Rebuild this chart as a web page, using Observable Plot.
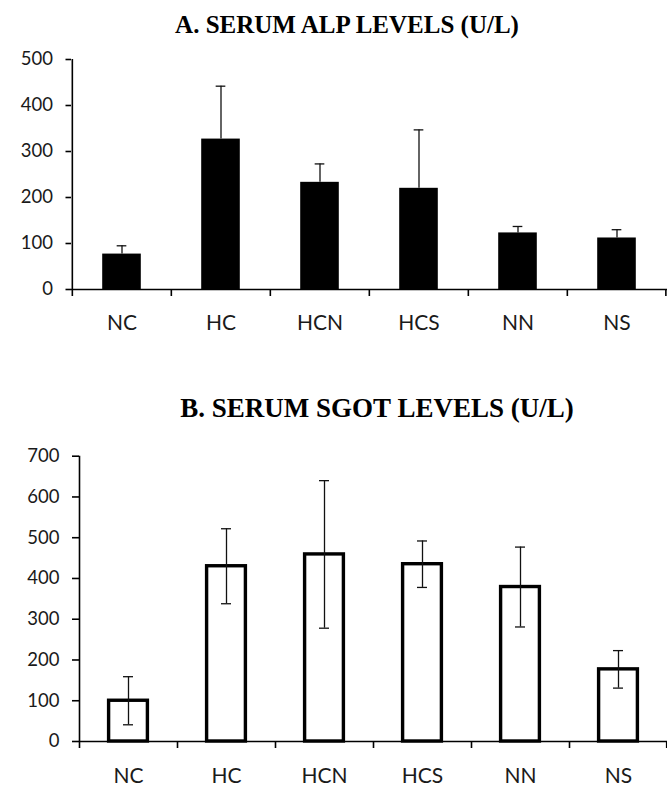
<!DOCTYPE html>
<html>
<head>
<meta charset="utf-8">
<script src="https://cdn.jsdelivr.net/npm/d3@7"></script>
<script src="https://cdn.jsdelivr.net/npm/@observablehq/plot@0.6"></script>
<style>
  html, body { margin: 0; padding: 0; background: #fff; }
  body { width: 667px; height: 786px; position: relative; overflow: hidden; }
  .title {
    position: absolute;
    font-family: "Liberation Serif", "Times New Roman", serif;
    font-weight: bold;
    line-height: 1;
    white-space: nowrap;
    color: #000;
    transform: translateX(-50%);
  }
  .chart { position: absolute; left: 0; }
</style>
</head>
<body>
<div class="title" id="titleA" style="left:347px; top:11.5px; font-size:25px;">A. SERUM ALP LEVELS (U/L)</div>
<div class="chart" id="chartA" style="top:45px;"></div>
<div class="title" id="titleB" style="left:377px; top:395px; font-size:27px;">B. SERUM SGOT LEVELS (U/L)</div>
<div class="chart" id="chartB" style="top:440px;"></div>
<script>
// ---- data ----
const categories = ["NC", "HC", "HCN", "HCS", "NN", "NS"];
const alpMean = [77, 327, 233, 220, 123, 112];
const alpSD   = [18, 115, 40, 127, 14, 18];
const sgotMean = [100, 430, 459, 435, 379, 177];
const sgotSD   = [59, 92, 181, 57, 98, 46];
const alpTicks  = [0, 100, 200, 300, 400, 500];
const sgotTicks = [0, 100, 200, 300, 400, 500, 600, 700];

function makeChart(opts) {
  const {means, sds, ticks, width, height, marginLeft, marginTop, marginBottom,
         fill, barStroke, barStrokeWidth, barInset, twoSided, yTickSize, xTickPadding} = opts;
  const yMax = ticks[ticks.length - 1];
  const data = categories.map((c, i) => ({
    cat: c,
    mean: means[i],
    lo: twoSided ? means[i] - sds[i] : means[i],
    hi: means[i] + sds[i]
  }));
  const step = (width - marginLeft) / categories.length;
  const capInset = (step - 10) / 2;
  const ink = "#111";
  return Plot.plot({
    width, height, marginLeft, marginRight: 0, marginTop, marginBottom,
    style: {fontFamily: "Lato, 'Open Sans', sans-serif", color: "#1a1a1a", background: "white", overflow: "visible"},
    x: {domain: categories, padding: 0, label: null},
    y: {domain: [0, yMax], label: null},
    marks: [
      Plot.barY(data, {x: "cat", y: "mean", fill, stroke: barStroke, strokeWidth: barStrokeWidth,
                       insetLeft: barInset, insetRight: barInset}),
      Plot.ruleX(data, {x: "cat", y1: "hi", y2: "lo", stroke: ink, strokeWidth: 1.3}),
      Plot.tickY(data, {x: "cat", y: "hi", insetLeft: capInset, insetRight: capInset, stroke: ink, strokeWidth: 1.3}),
      twoSided ? Plot.tickY(data, {x: "cat", y: "lo", insetLeft: capInset, insetRight: capInset, stroke: ink, strokeWidth: 1.3}) : null,
      Plot.ruleY([0], {stroke: "#000", strokeWidth: 1.6}),
      // y-axis line, extending below zero like the first category tick
      Plot.ruleX([categories[0]], {x: d => d, dx: -step / 2, y1: () => yMax, y2: () => 0, insetBottom: -7, stroke: "#000", strokeWidth: 1.6}),
      // category boundary ticks
      Plot.ruleX(categories.slice(1), {x: d => d, dx: -step / 2, y1: () => 0, y2: () => 0, insetBottom: -7, stroke: "#000", strokeWidth: 1.6}),
      Plot.ruleX([categories[categories.length - 1]], {x: d => d, dx: step / 2 - 0.8, y1: () => 0, y2: () => 0, insetBottom: -7, stroke: "#000", strokeWidth: 1.6}),
      Plot.axisY({ticks, tickSize: yTickSize, tickPadding: 13, fontSize: 18.5, tickFormat: d => String(d), stroke: "#000", strokeWidth: 1.6}),
      Plot.axisX({tickSize: 0, tickPadding: xTickPadding, fontSize: 21})
    ]
  });
}

document.getElementById("chartA").append(makeChart({
  means: alpMean, sds: alpSD, ticks: alpTicks,
  width: 667, height: 294, marginLeft: 71, marginTop: 14, marginBottom: 50,
  fill: "#000", barStroke: "#000", barStrokeWidth: 0, barInset: 30.2,
  twoSided: false, yTickSize: 5.5, xTickPadding: 26
}));

document.getElementById("chartB").append(makeChart({
  means: sgotMean, sds: sgotSD, ticks: sgotTicks,
  width: 667, height: 346, marginLeft: 79, marginTop: 15.7, marginBottom: 45,
  fill: "#fff", barStroke: "#000", barStrokeWidth: 3.4, barInset: 29.6,
  twoSided: true, yTickSize: 7, xTickPadding: 27
}));
</script>
</body>
</html>
